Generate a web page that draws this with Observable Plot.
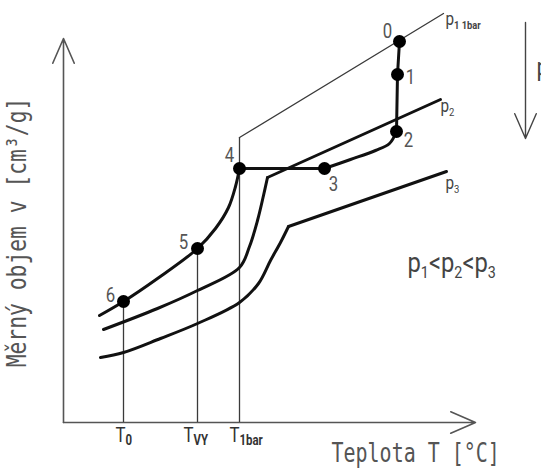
<!DOCTYPE html>
<html><head><meta charset="utf-8">
<script src="https://cdn.jsdelivr.net/npm/d3@7"></script>
<script src="https://cdn.jsdelivr.net/npm/@observablehq/plot@0.6"></script>
<style>body{margin:0;background:#fff}</style>
</head><body><div id="chart"></div>
<script>
// ---------- DATA (schematic units: T to the right, v upward) ----------
const tempNames = ["T_{0}", "T_{VY}", "T_{1bar}"];
const tempValues = [60, 134, 176];

const pointLabels = ["0", "1", "2", "3", "4", "5", "6"];
const pointT = [336, 334, 333, 261, 176, 134, 60];
const pointV = [381, 348, 291, 254, 254, 174, 121];

// isobar p1 (1 bar): liquid branch up to point 4, vapour branch 3 -> 2
const p1LiquidT = [36, 60, 94, 134, 152, 165, 172, 176];
const p1LiquidV = [107, 121, 144, 174, 194, 215, 236, 254];
const p1VapourT = [261, 287, 312, 326, 333];
const p1VapourV = [254, 263, 272, 279, 291];
// thin 1 bar line
const p1barT = [176, 380];
const p1barV = [285, 409];
// isobar p2
const p2CurveT = [40, 94, 134, 176, 186, 194, 200, 204];
const p2CurveV = [93, 114, 132, 155, 176, 202, 227, 245];
const p2LineT = [204, 377];
const p2LineV = [245, 323];
// isobar p3
const p3CurveT = [37, 60, 97, 134, 176, 195, 207, 217, 225];
const p3CurveV = [65, 70, 84, 99, 120, 139, 162, 180, 196];
const p3LineT = [225, 383];
const p3LineV = [196, 251];

const yTitle = "Měrný objem v [cm³/g]";
const xTitle = "Teplota T [°C]";
const isobarNames = ["p_{1 1bar}", "p_{2}", "p_{3}"];
const orderText = "p_{1}<p_{2}<p_{3}";

// ---------- LAYOUT ----------
const axisArrows = [{x1: 0, y1: 0, x2: 0, y2: 384}, {x1: 0, y1: 0, x2: 412, y2: 0}];
const pressureArrow = [{x1: 462, y1: 400, x2: 462, y2: 284}];
const pointLabelT = [324, 347, 345, 270, 166, 120, 47];
const pointLabelV = [391, 345, 282, 238, 267, 180, 127];
const tempLabelT = [52, 120, 166];
const tempLabelV = -13;
const isobarLabelT = [382, 377, 382];
const isobarLabelV = [403, 316, 239];

const zip = (T, V) => T.map((t, i) => ({T: t, v: V[i]}));
const pts = pointLabels.map((l, i) => ({label: l, T: pointT[i], v: pointV[i]}));
const P = Object.fromEntries(pts.map(d => [d.label, d]));

const thick = {x: "T", y: "v", stroke: "#111", strokeWidth: 3};
const thin = {stroke: "#3a3a3a", strokeWidth: 1.3};
const gray = "#555";

const chart = Plot.plot({
  width: 541, height: 468, margin: 0,
  x: {domain: [-63, 478], axis: null},
  y: {domain: [-46, 422], axis: null},
  style: {background: "#fff", fontFamily: "Roboto, sans-serif"},
  marks: [
    Plot.arrow(axisArrows, {x1: "x1", y1: "y1", x2: "x2", y2: "y2", stroke: gray, strokeWidth: 1.6, headLength: 27 * 1.5 / 1.6, headAngle: 47}),
    Plot.arrow(pressureArrow, {x1: "x1", y1: "y1", x2: "x2", y2: "y2", stroke: "#444", strokeWidth: 1.4, headLength: 27 * 1.5 / 1.4, headAngle: 47}),
    Plot.ruleX(tempValues, {x: d => d, y1: 0, y2: (d, i) => [P["6"].v, P["5"].v, p1barV[0]][i], ...thin}),
    Plot.line(zip(p1barT, p1barV), {x: "T", y: "v", ...thin}),
    Plot.line(zip(p1LiquidT, p1LiquidV), {...thick, curve: "catmull-rom"}),
    Plot.line([P["4"], P["3"]], {...thick}),
    Plot.line(zip(p1VapourT, p1VapourV), {...thick, curve: "catmull-rom"}),
    Plot.line([P["2"], P["1"], P["0"]], {...thick}),
    Plot.line(zip(p2CurveT, p2CurveV), {...thick, curve: "catmull-rom"}),
    Plot.line(zip(p2LineT, p2LineV), {...thick}),
    Plot.line(zip(p3CurveT, p3CurveV), {...thick, curve: "catmull-rom"}),
    Plot.line(zip(p3LineT, p3LineV), {...thick}),
    Plot.dot(pts, {x: "T", y: "v", r: 6.5, fill: "#000"}),
    // text marks (order matters for post-processing below)
    Plot.text(pointLabels, {x: (d, i) => pointLabelT[i], y: (d, i) => pointLabelV[i], text: d => d, fontSize: 21, fill: gray}),
    Plot.text(tempNames, {x: (d, i) => tempLabelT[i], y: tempLabelV, text: d => d, textAnchor: "start", fontSize: 21, fill: "#333"}),
    Plot.text(isobarNames, {x: (d, i) => isobarLabelT[i], y: (d, i) => isobarLabelV[i], text: d => d, textAnchor: "start", fontSize: 18, fill: "#444"}),
    Plot.text([orderText], {x: 344, y: 159, text: d => d, textAnchor: "start", fontSize: 28, fill: "#444"}),
    Plot.text(["p"], {x: 473, y: 355, text: d => d, textAnchor: "start", fontSize: 26, fill: "#444"}),
    Plot.text([yTitle], {x: -46, y: 190, text: d => d, rotate: -90, fontSize: 27, fontFamily: "DejaVu Sans Mono", fill: gray}),
    Plot.text([xTitle], {x: 268, y: -31, text: d => d, textAnchor: "start", fontSize: 27, fontFamily: "DejaVu Sans Mono", fill: gray})
  ]
});
document.getElementById("chart").appendChild(chart);

const textGroups = d3.select(chart).selectAll('g[aria-label="text"]').nodes();
function finishText(idx, fs, {sx = 1, sub = 0.7, shift = 0.25, bold = false} = {}) {
  d3.select(textGroups[idx]).selectAll("text").each(function() {
    const t = d3.select(this);
    t.attr("transform", (t.attr("transform") || "") + ` scale(${sx},1)`);
    const s = this.textContent;
    if (!s.includes("_{")) return;
    t.text(null);
    let down = false;
    for (const part of s.split(/(_\{[^}]*\})/).filter(p => p.length)) {
      if (part.startsWith("_{")) {
        t.append("tspan").attr("font-size", fs * sub).attr("dy", fs * shift)
          .attr("font-weight", bold ? "bold" : null).text(part.slice(2, -1));
        down = true;
      } else {
        t.append("tspan").attr("dy", down ? -fs * shift : null).text(part);
        down = false;
      }
    }
  });
}
finishText(0, 21, {sx: 0.8});
finishText(1, 21, {sx: 0.8, sub: 0.68, shift: 0.12, bold: true});
finishText(2, 18, {sx: 0.85, sub: 0.62, shift: 0.2});
d3.select(textGroups[2]).selectAll("text").filter((d, i) => i === 0)
  .selectAll("tspan").filter((d, i) => i === 1).attr("font-weight", "bold").attr("font-size", 11);
finishText(3, 28, {sx: 0.85, sub: 0.6, shift: 0.18});
finishText(4, 26, {sx: 0.85});
finishText(5, 27, {sx: 0.79});
finishText(6, 27, {sx: 0.74});
</script></body></html>
